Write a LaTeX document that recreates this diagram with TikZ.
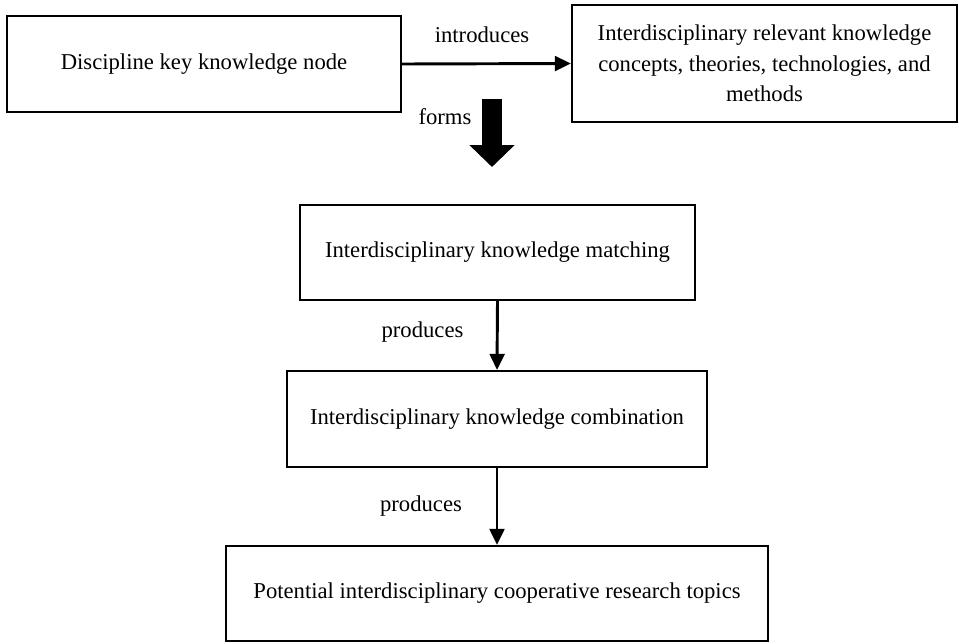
\documentclass[tikz,border=0pt]{standalone}
\usepackage{fontspec}
\setmainfont{Liberation Serif}
\usetikzlibrary{arrows.meta}

\tikzset{
	box/.style={draw, line width=1.6pt, inner sep=0pt, align=center},
	link/.style={line width=2.2pt, -{Triangle[length=12pt,width=11pt]}}
}

\begin{document}
\begin{tikzpicture}[x=0.75pt,y=-0.75pt,every text node part/.style={align=center},font=\fontsize{17pt}{23pt}\selectfont]
	\useasboundingbox (0,0) rectangle (959,643);

		% Boxes
		\node[box,minimum width=295.5pt,minimum height=72pt] (KeyNode) at (204,64) {Discipline key knowledge node};
		\node[box,minimum width=288.75pt,minimum height=87.75pt] (Related) at (764.5,63.5) {Interdisciplinary relevant knowledge\\concepts, theories, technologies, and\\methods};
		\node[box,minimum width=296.25pt,minimum height=71.25pt] (Matching) at (497.5,252.5) {Interdisciplinary knowledge matching};
		\node[box,minimum width=315pt,minimum height=72pt] (Combination) at (497,419) {Interdisciplinary knowledge combination};
		\node[box,minimum width=406.5pt,minimum height=71.25pt] (Topics) at (497,593.5) {Potential interdisciplinary cooperative research topics};

		% Labels
		\node (introduces) at (482,35) {introduces};
		\node (forms) at (445,117) {forms};
		\node (produces-1) at (422.5,332) {produces};
		\node (produces-2) at (421,506) {produces};

		% Arrows
		\coordinate (FormsTop) at (492,99);
		\coordinate (FormsTip) at (492,167);
		\draw [link] (KeyNode.east) to (Related.west);
		\draw [line width=15pt,-{Triangle[length=16.5pt,width=33pt]}] (FormsTop) to (FormsTip);
		\draw [link] (Matching.south) to (Combination.north);
		\draw [link] (Combination.south) to (Topics.north);

	\end{tikzpicture}
\end{document}
